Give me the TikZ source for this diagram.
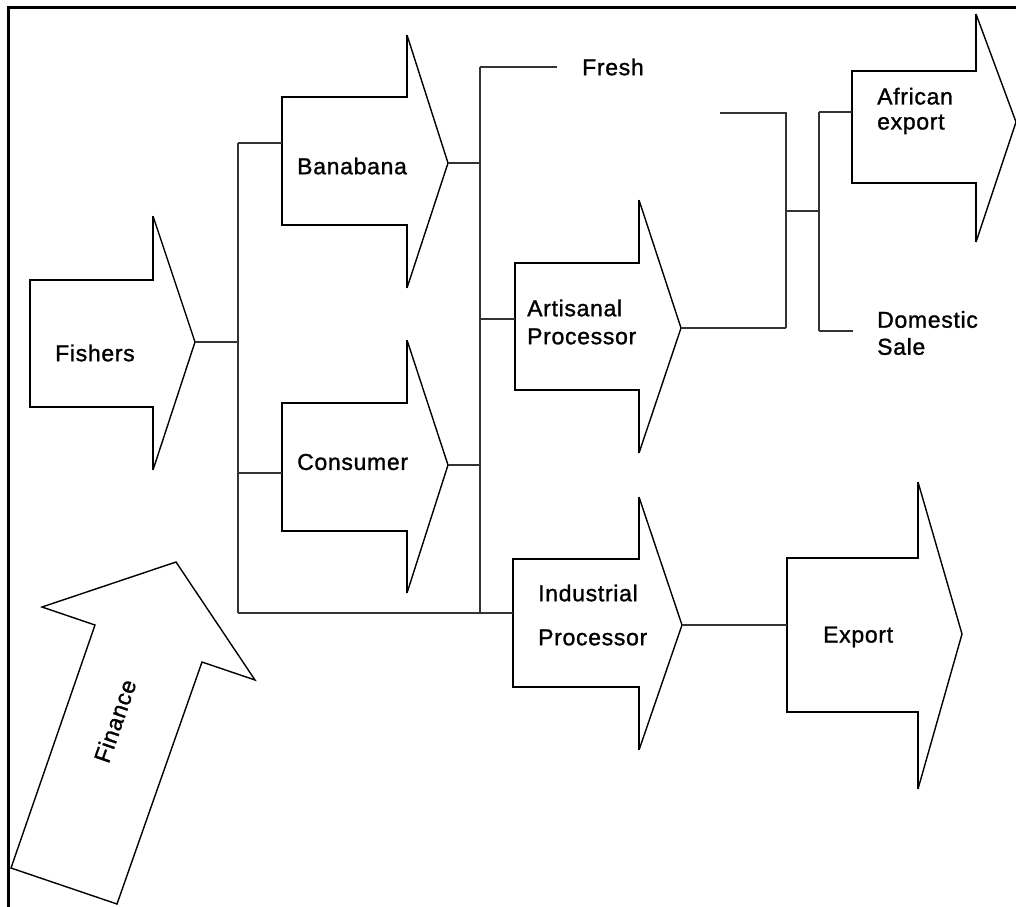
\documentclass[tikz,border=0pt]{standalone}
\usepackage{fontspec}
\setmainfont{Liberation Sans}
\newfontfamily\lblfont{Liberation Sans}[FakeBold=1.2, LetterSpace=3]
\begin{document}
\begin{tikzpicture}[x=1pt,y=-1pt,
  conn/.style={draw=black!80, line width=1.4pt},
  shaftline/.style={draw=black, line width=1.8pt, line join=miter},
  headline/.style={draw=black, line width=1.4pt, line join=miter},
  boldshaft/.style={draw=black, line width=2.8pt, line join=miter},
  lbl/.style={font=\lblfont\fontsize{23}{28}\selectfont, inner sep=0pt, anchor=west, align=left},
  frame/.style={draw=black, line width=3pt}]
\useasboundingbox (0,0) rectangle (1016,906);
\newcommand\FlowArrow[9]{% #1 name #2 style, #3 x0, #4 shaft top, #5 shaft bottom, #6 head x, #7 head top, #8 head bottom, #9 tip (x,y)
  \coordinate (#1-tip) at (#9);
  \fill[white] (#3,#4) -- (#6,#4) -- (#6,#7) -- (#1-tip) -- (#6,#8) -- (#6,#5) -- (#3,#5) -- cycle;
  \draw[#2] (#6,#7) -- (#6,#4) -- (#3,#4) -- (#3,#5) -- (#6,#5) -- (#6,#8);
  \draw[headline] (#6,#7) -- (#1-tip) -- (#6,#8);
}
% frame
\draw[frame] (8,920) -- (8,7) -- (1030,7);
% arrows
\FlowArrow{fishers}{shaftline}{30}{280}{407}{153}{216}{470}{195,342}
\FlowArrow{banabana}{shaftline}{282}{97}{225}{407}{35}{288}{448,163}
\FlowArrow{consumer}{shaftline}{282}{403}{531}{407}{340}{593}{448,465}
\FlowArrow{artisanal}{shaftline}{515}{263}{390}{639}{200}{453}{681,328}
\FlowArrow{industrial}{shaftline}{513}{559}{687}{639}{497}{750}{682,625}
\FlowArrow{export}{boldshaft}{787}{558}{712}{918}{482}{789}{962,634}
\FlowArrow{african}{boldshaft}{852}{71}{183}{976}{14}{242}{1016,122}
% finance arrow
\draw[headline, fill=white] (11,868) -- (95,625) -- (42,607) -- (176,562) -- (255,680) -- (202,662) -- (117,904) -- cycle;
\node[font=\lblfont\fontsize{23}{28}\selectfont, inner sep=0pt, rotate=70.9] (finance) at (115,721) {Finance};
% labels
\node[lbl] (fishers) at (55,353) {Fishers};
\node[lbl] (banabana) at (297,166) {Banabana};
\node[lbl] (consumer) at (297,462) {Consumer};
\node[lbl] (fresh) at (582,67) {Fresh};
\node[lbl] (artisanal) at (527,322) {Artisanal\\Processor};
\node[lbl, font=\lblfont\fontsize{23}{44}\selectfont] (industrial) at (538,615) {Industrial\\Processor};
\node[lbl] (export) at (823,637) {Export};
\node[lbl, font=\lblfont\fontsize{23}{25}\selectfont] (african) at (877,111) {African\\export};
\node[lbl, font=\lblfont\fontsize{23}{27}\selectfont] (domestic) at (877,333) {Domestic\\Sale};
% junction coordinates
\coordinate (b1top) at (238,143);
\coordinate (b1bot) at (238,613);
\coordinate (b1mid) at (238,342);
\coordinate (b1con) at (238,473);
\coordinate (banabana-in) at (282,143);
\coordinate (consumer-in) at (282,473);
\coordinate (industrial-in) at (513,613);
\coordinate (b2top) at (480,67);
\coordinate (b2bot) at (480,613);
\coordinate (b2ban) at (480,163);
\coordinate (b2con) at (480,465);
\coordinate (b2art) at (480,319);
\coordinate (artisanal-in) at (515,319);
\coordinate (fresh-end) at (557,67);
\coordinate (b3top) at (786,113);
\coordinate (b3free) at (720,113);
\coordinate (b3bot) at (786,328);
\coordinate (b3mid) at (786,211);
\coordinate (b4mid) at (819,211);
\coordinate (b4top) at (819,112);
\coordinate (b4bot) at (819,331);
\coordinate (african-in) at (852,112);
\coordinate (domestic-end) at (853,331);
\coordinate (export-in) at (787,625);
% connectors
\draw[conn] (fishers-tip) -- (b1mid);
\draw[conn] (b1top) -- (b1bot);
\draw[conn] (b1top) -- (banabana-in);
\draw[conn] (b1con) -- (consumer-in);
\draw[conn] (b1bot) -- (industrial-in);
\draw[conn] (b2top) -- (b2bot);
\draw[conn] (b2top) -- (fresh-end);
\draw[conn] (banabana-tip) -- (b2ban);
\draw[conn] (consumer-tip) -- (b2con);
\draw[conn] (b2art) -- (artisanal-in);
\draw[conn] (artisanal-tip) -- (b3bot);
\draw[conn] (b3free) -- (b3top) -- (b3bot);
\draw[conn] (b3mid) -- (b4mid);
\draw[conn] (b4top) -- (b4bot);
\draw[conn] (b4top) -- (african-in);
\draw[conn] (b4bot) -- (domestic-end);
\draw[conn] (industrial-tip) -- (export-in);
\end{tikzpicture}
\end{document}
